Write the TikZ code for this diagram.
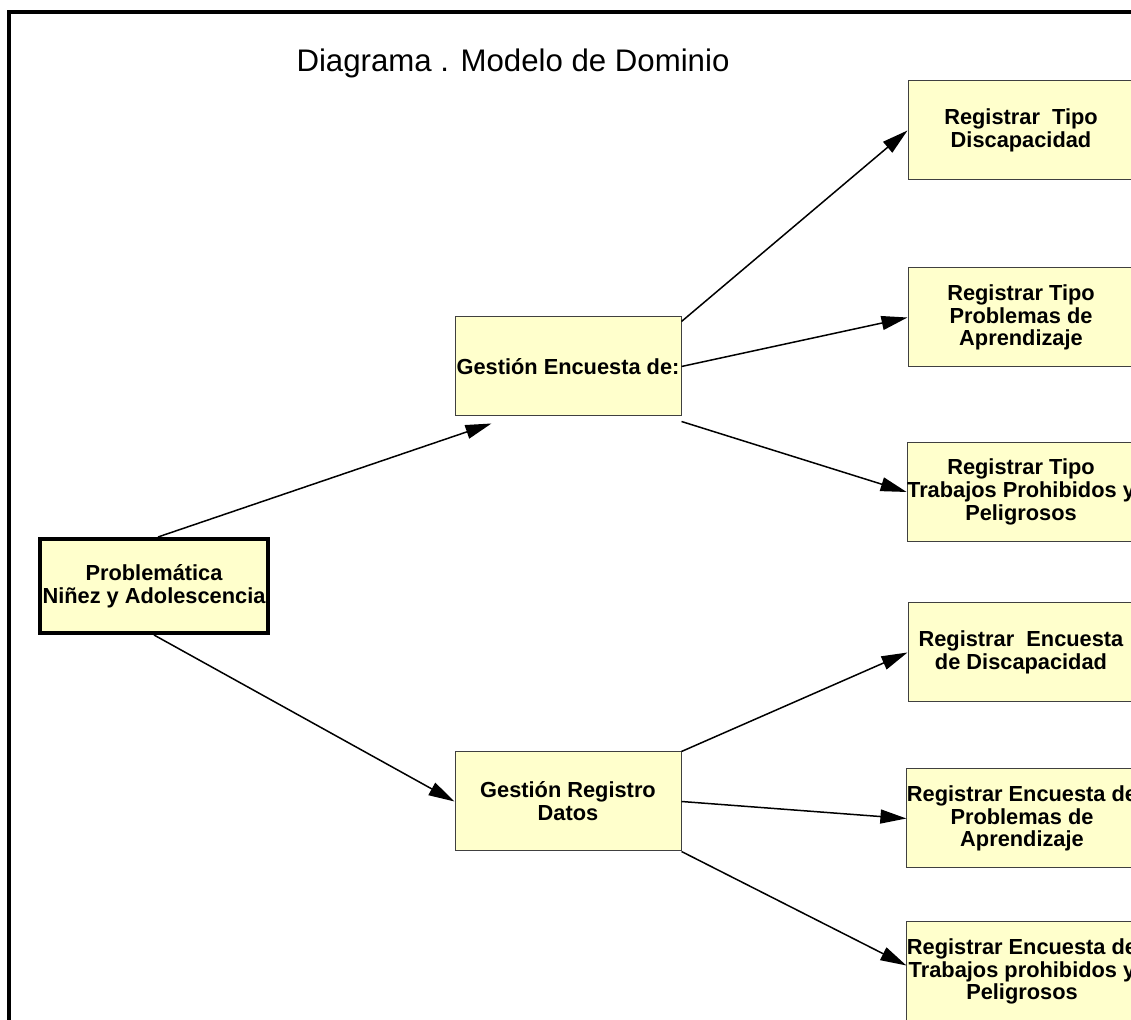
\documentclass[tikz,border=0pt]{standalone}
\usepackage{fontspec}
\setmainfont{Liberation Sans}
\usetikzlibrary{arrows.meta}
\definecolor{amarillo}{HTML}{FFFFCC}
\tikzstyle{tarea} = [rectangle, minimum width=113pt, minimum height=49.5pt, inner xsep=0pt, align=center, draw=black!75, fill=amarillo, line width=0.5pt, font=\bfseries\fontsize{10.9}{11.4}\selectfont]
\tikzstyle{raiz} = [tarea, minimum width=114pt, minimum height=47pt, line width=2pt, draw=black]
\tikzstyle{flecha} = [line width=0.75pt, -{Triangle[length=13pt,width=7pt]}]

\begin{document}
\begin{tikzpicture}[x=0.5pt, y=-0.5pt]
    \useasboundingbox (0,0) rectangle (1131,1020);
    \clip (0,0) rectangle (1131,1020);
    \draw [line width=1.8pt] (9,1020) -- (9,12) -- (1131,12);

    \node (titulo) [anchor=base] at (513,72) {\fontsize{15.6}{18}\selectfont Diagrama . Modelo de Dominio};

    \node (prob) [raiz] at (154,586) {Problemática\\Niñez y Adolescencia};
    \node (encuesta) [tarea] at (568,366.5) {Gestión Encuesta de:};
    \node (registro) [tarea] at (568,801.5) {Gestión Registro\\Datos};

    \node (tipoDisc) [tarea] at (1021,130.5) {Registrar~ Tipo\\Discapacidad};
    \node (tipoProb) [tarea] at (1021,317.5) {Registrar Tipo\\Problemas de\\Aprendizaje};
    \node (tipoTrab) [tarea] at (1021,492) {Registrar Tipo\\Trabajos Prohibidos y\\Peligrosos};
    \node (encDisc) [tarea] at (1021,652.5) {Registrar~ Encuesta\\de Discapacidad};
    \node (encProb) [tarea] at (1022,818.5) {Registrar Encuesta de\\Problemas de\\Aprendizaje};
    \node (encTrab) [tarea] at (1022,971.5) {Registrar Encuesta de\\Trabajos prohibidos y\\Peligrosos};

    \draw [flecha] ([xshift=2pt]prob.north) -- ([xshift=18.5pt, yshift=-3.5pt]encuesta.south west);
    \draw [flecha] (prob.south) -- (registro.west);

    \draw [flecha] ([yshift=-2.5pt]encuesta.north east) -- (tipoDisc.west);
    \draw [flecha] (encuesta.east) -- (tipoProb.west);
    \draw [flecha] ([yshift=-2.5pt]encuesta.south east) -- (tipoTrab.west);

    \draw [flecha] (registro.north east) -- (encDisc.west);
    \draw [flecha] (registro.east) -- (encProb.west);
    \draw [flecha] (registro.south east) -- ([yshift=3pt]encTrab.west);
\end{tikzpicture}
\end{document}
